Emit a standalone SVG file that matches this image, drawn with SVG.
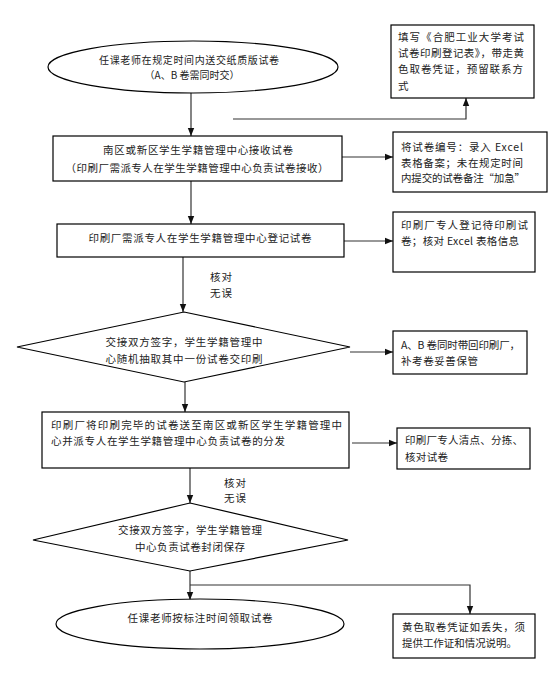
<svg xmlns="http://www.w3.org/2000/svg" width="556" height="677" viewBox="0 0 556 677">
<defs>
<marker id="ah" markerWidth="8" markerHeight="8" refX="8" refY="4" orient="auto" markerUnits="userSpaceOnUse">
<path d="M0,0.8 L8,4 L0,7.2 Z" fill="#111"/>
</marker>
<style>
.n{fill:#fff;stroke:#000;stroke-width:1.2}
.c{fill:none;stroke:#333;stroke-width:1.2}
.a{marker-end:url(#ah)}
text{font-family:"Noto Sans CJK SC","Noto Sans",sans-serif;font-size:10.5px;fill:#222}
.m{text-anchor:middle}
.s{font-size:10px}
</style>
</defs>
<rect width="556" height="677" fill="#fff"/>
<g id="connectors">
<line class="c a" x1="191" y1="93" x2="191" y2="136"/>
<polyline class="c a" points="233,119 466,119 466,98"/>
<line class="c a" x1="342" y1="157" x2="393" y2="157"/>
<line class="c a" x1="191" y1="181" x2="191" y2="224"/>
<line class="c a" x1="344" y1="241" x2="393" y2="241"/>
<line class="c a" x1="183" y1="257" x2="183" y2="312"/>
<line class="c a" x1="350" y1="352" x2="393" y2="352"/>
<line class="c a" x1="185" y1="382" x2="185" y2="412"/>
<line class="c a" x1="352" y1="443" x2="397" y2="443"/>
<line class="c a" x1="190" y1="468" x2="190" y2="503"/>
<line class="c a" x1="190" y1="571" x2="190" y2="600"/>
<polyline class="c a" points="190,585 470,585 470,614"/>
<text x="210" y="281" textLength="22">核对</text>
<text x="210" y="297" textLength="22">无误</text>
<text x="224" y="487" textLength="22">核对</text>
<text x="224" y="502" textLength="22">无误</text>
</g>
<g id="start">
<ellipse class="n" cx="193" cy="67" rx="145" ry="26"/>
<text class="m s" x="189" y="64" textLength="180">任课老师在规定时间内送交纸质版试卷</text>
<text class="m s" x="192" y="79">（A、B 卷需同时交）</text>
</g>
<g id="note1">
<rect class="n" x="391" y="25" width="143" height="73"/>
<text x="398" y="41" textLength="126">填写《合肥工业大学考试</text>
<text x="398" y="57" textLength="126">试卷印刷登记表》，带走黄</text>
<text x="398" y="73" textLength="125">色取卷凭证，预留联系方</text>
<text x="398" y="90">式</text>
</g>
<g id="receive">
<rect class="n" x="53" y="136" width="289" height="45"/>
<text class="m" x="198" y="154" textLength="190">南区或新区学生学籍管理中心接收试卷</text>
<text class="m" x="197" y="172" textLength="263">（印刷厂需派专人在学生学籍管理中心负责试卷接收）</text>
</g>
<g id="note2">
<rect class="n" x="393" y="132" width="154" height="60"/>
<text x="401" y="151" textLength="122">将试卷编号：录入 Excel</text>
<text x="401" y="167" textLength="122">表格备案；未在规定时间</text>
<text x="401" y="182" textLength="124">内提交的试卷备注“加急”</text>
</g>
<g id="register">
<rect class="n" x="57" y="224" width="287" height="33"/>
<text class="m" x="200" y="242" textLength="223">印刷厂需派专人在学生学籍管理中心登记试卷</text>
</g>
<g id="note3">
<rect class="n" x="393" y="212" width="142" height="60"/>
<text x="401" y="229" textLength="127">印刷厂专人登记待印刷试</text>
<text x="401" y="245" textLength="118">卷；核对 Excel 表格信息</text>
</g>
<g id="decision1">
<polygon class="n" points="184,312 350,347 184,382 17,347"/>
<text class="m" x="184" y="346" textLength="157">交接双方签字，学生学籍管理中</text>
<text class="m" x="184" y="363" textLength="157">心随机抽取其中一份试卷交印刷</text>
</g>
<g id="note4">
<rect class="n" x="393" y="331" width="134" height="43"/>
<text x="401" y="349" textLength="119">A、B 卷同时带回印刷厂，</text>
<text x="401" y="365" textLength="77">补考卷妥善保管</text>
</g>
<g id="deliver">
<rect class="n" x="42" y="412" width="307" height="56"/>
<text x="51" y="429" textLength="291">印刷厂将印刷完毕的试卷送至南区或新区学生学籍管理中</text>
<text x="51" y="445" textLength="234">心并派专人在学生学籍管理中心负责试卷的分发</text>
</g>
<g id="note5">
<rect class="n" x="397" y="428" width="133" height="41"/>
<text x="405" y="444" textLength="118">印刷厂专人清点、分拣、</text>
<text x="405" y="461" textLength="43">核对试卷</text>
</g>
<g id="decision2">
<polygon class="n" points="190,503 348,540 190,571 33,540"/>
<text class="m" x="190" y="534" textLength="144">交接双方签字，学生学籍管理</text>
<text class="m" x="190" y="551" textLength="110">中心负责试卷封闭保存</text>
</g>
<g id="end">
<ellipse class="n" cx="200" cy="624" rx="144" ry="25"/>
<text class="m" x="200" y="622" textLength="145">任课老师按标注时间领取试卷</text>
</g>
<g id="note6">
<rect class="n" x="393" y="614" width="142" height="44"/>
<text x="402" y="631" textLength="123">黄色取卷凭证如丢失，须</text>
<text x="402" y="647" textLength="115">提供工作证和情况说明。</text>
</g>
</svg>
